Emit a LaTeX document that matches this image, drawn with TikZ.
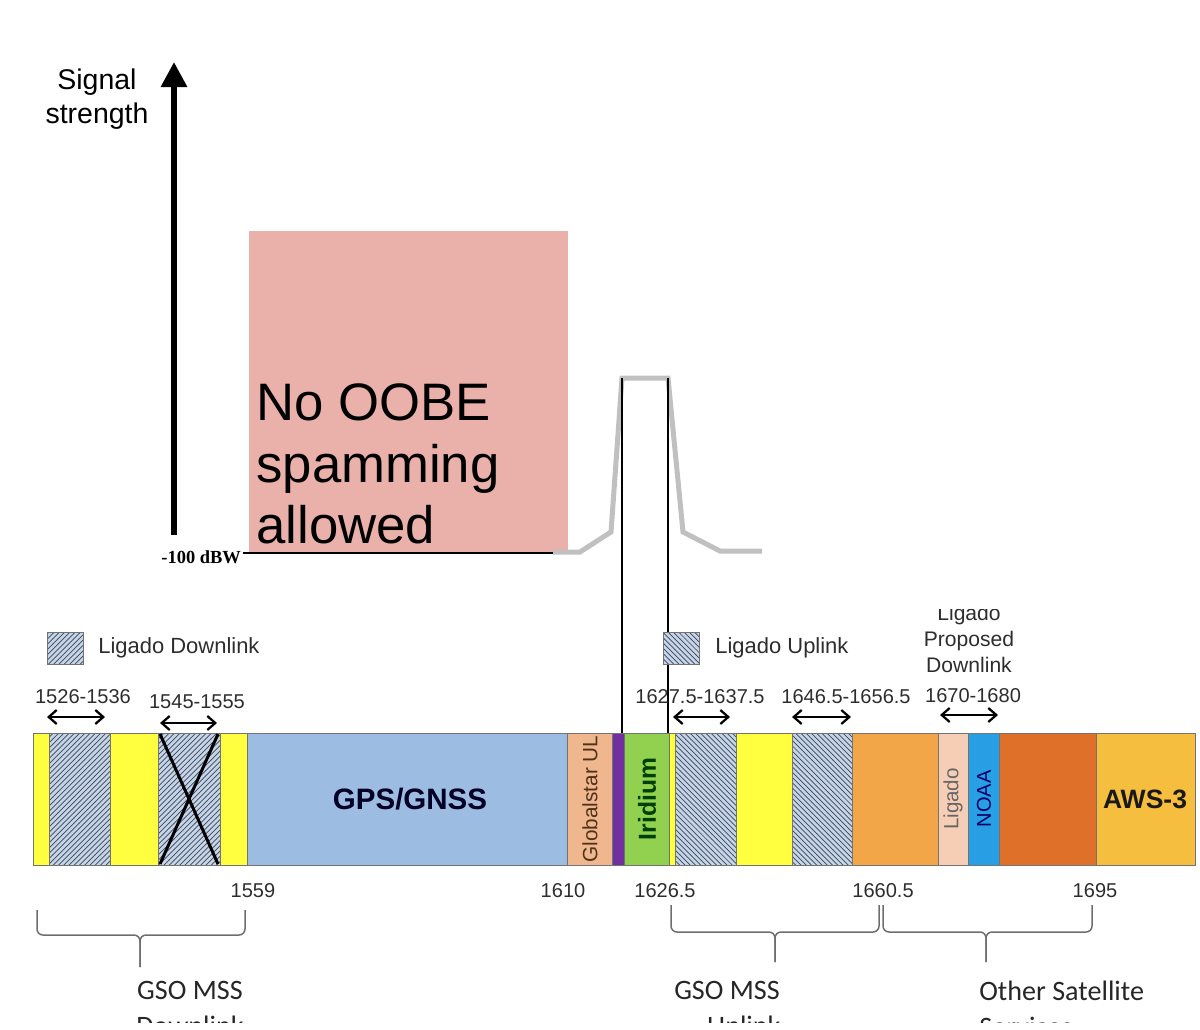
\documentclass[tikz,border=0pt]{standalone}
\usepackage{fontspec}
\setmainfont{Liberation Sans}
\newfontfamily\calfont{Carlito}
\newfontfamily\timesfont{Liberation Serif}
\usepackage{xcolor}
\usepackage{tikz}
\usetikzlibrary{arrows.meta,patterns,positioning}
\definecolor{oobepink}{RGB}{234,177,170}
\definecolor{bandyellow}{RGB}{255,255,64}
\definecolor{hatchbg}{RGB}{198,212,228}
\definecolor{hatchline}{RGB}{55,70,100}
\definecolor{gpsblue}{RGB}{156,188,226}
\definecolor{gstarpeach}{RGB}{240,182,142}
\definecolor{irpurple}{RGB}{112,48,160}
\definecolor{irgreen}{RGB}{146,208,80}
\definecolor{ssorange}{RGB}{242,166,72}
\definecolor{ligpeach}{RGB}{246,206,182}
\definecolor{noaablue}{RGB}{40,158,228}
\definecolor{dkorange}{RGB}{222,112,42}
\definecolor{awsgold}{RGB}{246,190,62}
\definecolor{curvegray}{RGB}{192,192,192}
\definecolor{bracegray}{RGB}{110,110,110}
\definecolor{labelgray}{RGB}{45,45,45}

\begin{document}
\begin{tikzpicture}[x=0.2mm,y=-0.2mm,
    seg/.style={draw=black!55,line width=0.4pt},
    hatchne/.style={seg,preaction={fill=hatchbg},pattern=north east lines,pattern color=hatchline},
    hatchnw/.style={seg,preaction={fill=hatchbg},pattern=north west lines,pattern color=hatchline},
    rangearrow/.style={{Straight Barb[length=1.6mm,width=2.8mm]}-{Straight Barb[length=1.6mm,width=2.8mm]},line width=0.45mm},
    numlbl/.style={anchor=base,inner sep=0,text=labelgray,font=\fontsize{11.4}{13}\selectfont},
    brace/.style={draw=bracegray,line width=0.3mm,rounded corners=1.2mm},
    bracelbl/.style={anchor=north,inner sep=0,text=black!85,font=\calfont\fontsize{16}{20.5}\selectfont}]
  \useasboundingbox (0,0) rectangle (1200,1029);

  % axis
  \coordinate (axbot) at (174,535);
  \coordinate (axtop) at (174,62);
  \draw[line width=1.2mm,-{Triangle[length=5mm,width=5mm]}] (axbot) -- (axtop);
  \node[anchor=north,align=center,inner sep=0,font=\fontsize{16.2}{18.8}\selectfont] (sig) at (97,69) {Signal\\strength};

  % no OOBE area
  \fill[oobepink] (249,231) rectangle (568,553);
  \node[anchor=base west,inner sep=0,font=\fontsize{30}{35}\selectfont] (oobe1) at (256,420) {No OOBE};
  \node[anchor=base west,inner sep=0,font=\fontsize{30}{35}\selectfont] (oobe2) at (256,482) {spamming};
  \node[anchor=base west,inner sep=0,font=\fontsize{30}{35}\selectfont] (oobe3) at (256,543) {allowed};
  \node[anchor=east,inner sep=1pt,font=\timesfont\bfseries\fontsize{10.5}{12}\selectfont] (dbw) at (243,557) {-100 dBW};
  \coordinate (lvlend) at (570,553);
  \draw[line width=0.3mm] (243,553) -- (lvlend);

  % iridium signal
  \coordinate (pkl) at (622,378);
  \coordinate (pkr) at (668,378);
  \draw[curvegray,line width=1mm] (553,552) -- (580,552) -- (611,532) -- (pkl) -- (pkr) -- (683,532) -- (720,551) -- (762,551);
  \coordinate (irl) at (622,733);
  \coordinate (irr) at (668,755);
  \draw[line width=0.3mm] (pkl) -- (irl);
  \draw[line width=0.3mm] (pkr) -- (irr);

  % legend
  \draw[hatchne] (47,632) rectangle (83,664);
  \node[anchor=west,inner sep=0,text=labelgray,font=\fontsize{12.5}{14}\selectfont] (legdown) at (98,648) {Ligado Downlink};
  \draw[hatchnw] (663,632) rectangle (699,664);
  \node[anchor=west,inner sep=0,text=labelgray,font=\fontsize{12.5}{14}\selectfont] (legup) at (715,648) {Ligado Uplink};
  \begin{scope}
    \clip (0,609) rectangle (1200,1029);
    \node[anchor=north,align=center,inner sep=0,text=labelgray,font=\fontsize{12}{14.8}\selectfont] (propdown) at (969,605) {Ligado\\Proposed\\Downlink};
  \end{scope}

  % ranges
  \node[numlbl] (r1) at (83,703) {1526-1536};
  \draw[rangearrow] (47,717) -- (105,717);
  \node[numlbl] (r2) at (197,708) {1545-1555};
  \draw[rangearrow] (160,723) -- (217,723);
  \node[numlbl] (r3) at (700,703) {1627.5-1637.5};
  \draw[rangearrow] (673,717) -- (730,717);
  \node[numlbl] (r4) at (846,703) {1646.5-1656.5};
  \draw[rangearrow] (792,717) -- (851,717);
  \node[numlbl] (r5) at (973,702) {1670-1680};
  \draw[rangearrow] (940,715) -- (998,715);

  % band plan
  \draw[seg,fill=bandyellow] (33,733) rectangle (49,865);
  \draw[hatchne] (49,733) rectangle (110,865);
  \draw[seg,fill=bandyellow] (110,733) rectangle (158,865);
  \draw[hatchne] (158,733) rectangle (220,865);
  \draw[line width=0.6mm] (160,734) -- (218,864);
  \draw[line width=0.6mm] (218,734) -- (160,864);
  \draw[seg,fill=bandyellow] (220,733) rectangle (247,865);
  \draw[seg,fill=gpsblue] (247,733) rectangle (567,865);
  \node[font=\bfseries\fontsize{16.8}{18}\selectfont,text=black!85!blue] (gps) at (410,799) {GPS/GNSS};
  \draw[seg,fill=gstarpeach] (567,733) rectangle (612,865);
  \node[rotate=90,font=\fontsize{11.8}{13}\selectfont,text=black!60!brown] (gstar) at (590,799) {Globalstar UL};
  \draw[seg,fill=irpurple] (612,733) rectangle (624,865);
  \draw[seg,fill=irgreen] (624,733) rectangle (669,865);
  \node[rotate=90,font=\bfseries\fontsize{14}{15}\selectfont,text=black!75!green] (irid) at (647,799) {Iridium};
  \draw[seg,fill=bandyellow] (669,733) rectangle (675,865);
  \draw[hatchnw] (675,733) rectangle (736,865);
  \draw[seg,fill=bandyellow] (736,733) rectangle (792,865);
  \draw[hatchnw] (792,733) rectangle (852,865);
  \draw[seg,fill=ssorange] (852,733) rectangle (938,865);
  \draw[seg,fill=ligpeach] (938,733) rectangle (968,865);
  \node[rotate=90,font=\fontsize{11.7}{13}\selectfont,text=black!60] (ligado) at (953,799) {Ligado};
  \draw[seg,fill=noaablue] (968,733) rectangle (999,865);
  \node[rotate=90,font=\fontsize{11.4}{13}\selectfont,text=blue!40!black] (noaa) at (984,799) {NOAA};
  \draw[seg,fill=dkorange] (999,733) rectangle (1096,865);
  \draw[seg,fill=awsgold] (1096,733) rectangle (1195,865);
  \node[font=\bfseries\fontsize{15.1}{16}\selectfont,text=black!90] (aws) at (1145,799) {AWS-3};

  % edges
  \node[numlbl] (f1559) at (253,897) {1559};
  \node[numlbl] (f1610) at (563,897) {1610};
  \node[numlbl] (f1626) at (665,897) {1626.5};
  \node[numlbl] (f1660) at (883,897) {1660.5};
  \node[numlbl] (f1695) at (1095,897) {1695};

  % service braces
  \draw[brace] (37,910) -- (37,935) -- (140,935) -- (140,967);
  \draw[brace] (140,967) -- (140,935) -- (245,935) -- (245,910);
  \draw[brace] (671,905) -- (671,932) -- (775,932) -- (775,962);
  \draw[brace] (775,962) -- (775,932) -- (879,932) -- (879,905);
  \draw[brace] (883,905) -- (883,932) -- (986,932) -- (986,962);
  \draw[brace] (986,962) -- (986,932) -- (1092,932) -- (1092,905);
  \begin{scope}
    \clip (0,0) rectangle (1200,1022);
    \node[bracelbl,align=center] (gsodown) at (190,981) {GSO MSS\\Downlink};
    \node[bracelbl,align=center] (gsoup) at (727,981) {GSO MSS\\\hspace{1.2em}Uplink};
    \node[bracelbl,align=left,anchor=north west] (other) at (979,981) {Other Satellite\\Services};
  \end{scope}
\end{tikzpicture}
\end{document}
